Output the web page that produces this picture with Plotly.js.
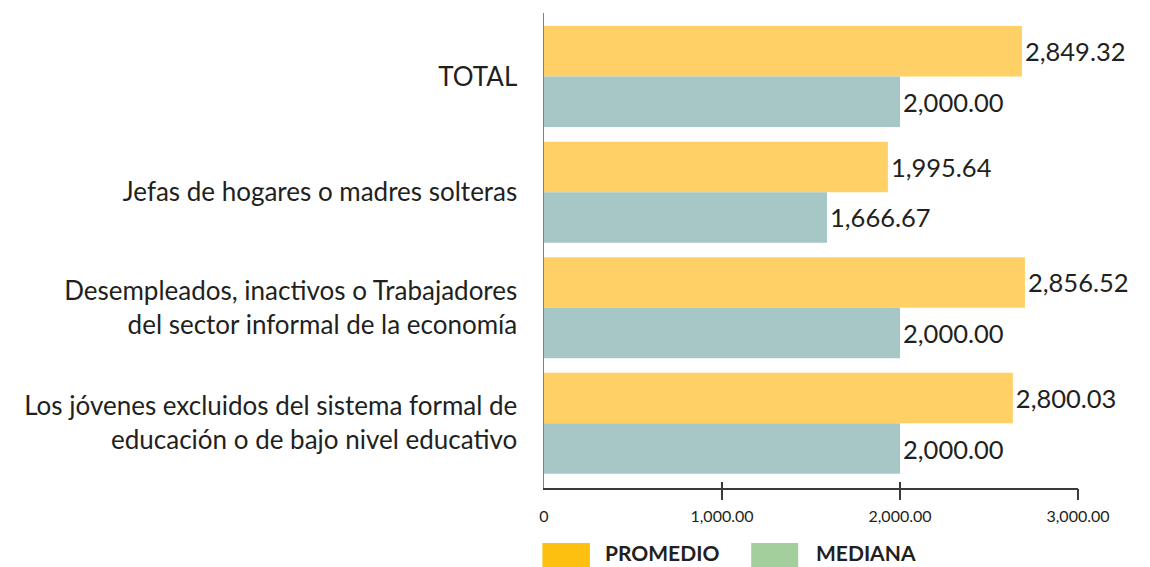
<!DOCTYPE html>
<html>
<head>
<meta charset="utf-8">
<script src="https://cdn.plot.ly/plotly-3.0.1.min.js"></script>
<style>
  html, body { margin: 0; padding: 0; background: #ffffff; }
  #chart { width: 1150px; height: 567px; }
</style>
</head>
<body>
<div id="chart"></div>
<script>
// ---- data ----
const categories = [
  "TOTAL",
  "Jefas de hogares o madres solteras",
  "Desempleados, inactivos o Trabajadores<br>del sector informal de la economía",
  "Los jóvenes excluidos del sistema formal de<br>educación o de bajo nivel educativo"
];
const seriesNames = ["PROMEDIO", "MEDIANA"];
// bar lengths as drawn in the picture
const promedio = [2685, 1932, 2702, 2634];
const mediana = [2000, 1590, 2000, 2000];
// value labels as printed
const promedioLabels = ["2,849.32", "1,995.64", "2,856.52", "2,800.03"];
const medianaLabels = ["2,000.00", "1,666.67", "2,000.00", "2,000.00"];
// axis ticks
const xTickVals = [0, 1000, 2000, 3000];
const xTickText = ["0", "1,000.00", "2,000.00", "3,000.00"];

const FONT = "Lato, 'Open Sans', sans-serif";
const TXT = "#231F20";
const barColors = ["#FED066", "#A7C7C7"];
const legendColors = ["#FDC010", "#A3CF9C"];

const traces = [
  {
    type: "bar", orientation: "h", name: seriesNames[0],
    y: categories, x: promedio, text: promedioLabels,
    textposition: "outside", cliponaxis: false, constraintext: "none",
    textfont: { family: FONT, size: 25.5, color: TXT },
    marker: { color: barColors[0] }, hoverinfo: "skip", showlegend: false
  },
  {
    type: "bar", orientation: "h", name: seriesNames[1],
    y: categories, x: mediana, text: medianaLabels,
    textposition: "outside", cliponaxis: false, constraintext: "none",
    textfont: { family: FONT, size: 25.5, color: TXT },
    marker: { color: barColors[1] }, hoverinfo: "skip", showlegend: false
  }
];

const layout = {
  width: 1150, height: 567,
  margin: { l: 544, r: 72, t: 13, b: 79, pad: 0 },
  paper_bgcolor: "#ffffff", plot_bgcolor: "#ffffff",
  barmode: "group", bargap: 0.126, bargroupgap: 0,
  showlegend: false,
  font: { family: FONT, color: TXT },
  xaxis: {
    range: [0, 3000], fixedrange: true,
    tickvals: xTickVals, ticktext: xTickText,
    ticks: "", showgrid: false, zeroline: false,
    showline: true, linecolor: "#3a3a3a", linewidth: 1.5,
    ticklabelstandoff: 13,
    tickfont: { family: FONT, size: 16, color: TXT }
  },
  xaxis2: {
    overlaying: "x", anchor: "y", side: "bottom",
    range: [0, 3000], fixedrange: true,
    tickvals: [1000, 2000, 3000], showticklabels: false,
    ticks: "outside", ticklen: 11, tickwidth: 1.2, tickcolor: "#3a3a3a",
    showgrid: false, zeroline: false, showline: false
  },
  xaxis3: {
    overlaying: "x", anchor: "y", side: "bottom",
    range: [0, 3000], fixedrange: true,
    tickvals: [1000, 2000, 3000], showticklabels: false,
    ticks: "inside", ticklen: 6, tickwidth: 1.2, tickcolor: "#3a3a3a",
    showgrid: false, zeroline: false, showline: false
  },
  yaxis: {
    type: "category", range: [3.56, -0.55], fixedrange: true,
    ticks: "", showgrid: false, zeroline: false,
    showline: true, linecolor: "#808080", linewidth: 1.5,
    ticklabelstandoff: 20,
    tickfont: { family: FONT, size: 26, color: TXT }
  },
  shapes: [
    { type: "rect", xref: "paper", yref: "paper",
      x0: -0.003, x1: 0.086, y0: -0.116, y1: -0.18,
      fillcolor: legendColors[0], line: { width: 0 } },
    { type: "rect", xref: "paper", yref: "paper",
      x0: 0.388, x1: 0.476, y0: -0.116, y1: -0.18,
      fillcolor: legendColors[1], line: { width: 0 } }
  ],
  annotations: [
    { xref: "paper", yref: "paper", x: 0.11, y: -0.166,
      xanchor: "left", yanchor: "bottom", showarrow: false,
      text: "<b>" + seriesNames[0] + "</b>",
      font: { family: "Lato", size: 21, color: TXT, weight: 900 } },
    { xref: "paper", yref: "paper", x: 0.506, y: -0.166,
      xanchor: "left", yanchor: "bottom", showarrow: false,
      text: "<b>" + seriesNames[1] + "</b>",
      font: { family: "Lato", size: 21, color: TXT, weight: 900 } }
  ]
};

// invisible helper traces so the overlay tick axes are drawn
traces.push({ type: "scatter", x: [], y: [], xaxis: "x2", yaxis: "y", showlegend: false, hoverinfo: "skip" });
traces.push({ type: "scatter", x: [], y: [], xaxis: "x3", yaxis: "y", showlegend: false, hoverinfo: "skip" });

Plotly.newPlot("chart", traces, layout, { displayModeBar: false, staticPlot: true });
</script>
</body>
</html>
